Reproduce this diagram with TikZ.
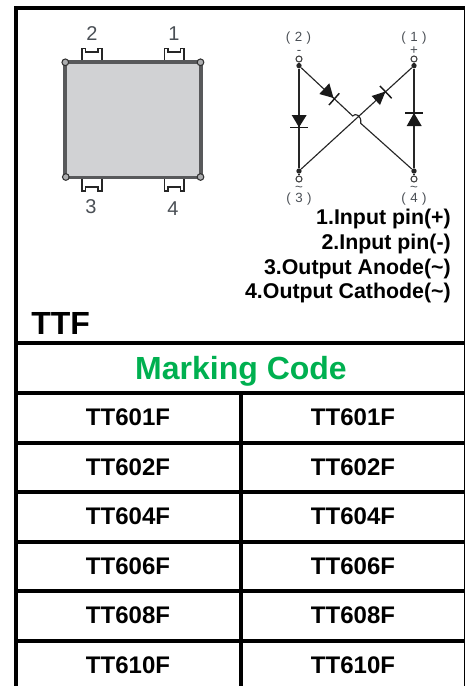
\documentclass[tikz,border=0pt]{standalone}
\usepackage{fontspec}
\setmainfont{Liberation Sans}
\definecolor{markgreen}{HTML}{00B050}
\definecolor{pkgfill}{HTML}{D1D2D4}
\definecolor{pkgedge}{HTML}{58595B}
\definecolor{lab}{HTML}{4A4F55}
\newcommand{\fs}[1]{\fontsize{#1}{#1}\selectfont}
\tikzset{
  rule/.style={line width=3pt,black},
  cell/.style={anchor=base,font=\fs{18}\bfseries,inner sep=0pt},
  pinlist/.style={anchor=base east,font=\fs{16}\bfseries,inner sep=0pt},
  pinnum/.style={font=\fs{15},text=lab,inner sep=0pt},
  cirlab/.style={font=\fs{10},text=lab,inner sep=0pt},
  pinshape/.style={draw=black!85,line width=1.2pt,fill=white},
  wire/.style={line width=1.1pt,black!85},
  thin wire/.style={line width=.85pt,black!85},
  dtri/.style={fill=black!90,draw=none},
  dbar/.style={line width=1.1pt,black!90},
  junction/.style={circle,fill=black!85,inner sep=0pt,minimum size=4pt},
  term/.style={circle,draw=black!75,fill=white,line width=.8pt,inner sep=0pt,minimum size=4.5pt},
  corner/.style={circle,draw=black!80,fill=pkgfill!70!pkgedge,line width=.8pt,inner sep=0pt,minimum size=5pt}
}
\begin{document}
\begin{tikzpicture}[x=0.75pt,y=-0.75pt]
\useasboundingbox (0,0) rectangle (465,686);
% frame and table
\coordinate (tl) at (16,8);
\coordinate (tr) at (465,8);
\coordinate (bl) at (16,686);
\coordinate (rt) at (464,8);
\coordinate (rb) at (464,686);
\draw[rule] (bl) -- (tl) -- (tr);
\draw[line width=.75pt,black] (rt) -- (rb);
\foreach \yy in {343,393,443,492,542,591,641}
  \draw[rule] (16,\yy) -- (465,\yy);
\draw[rule] (241,393) -- (241,686);
% package
\foreach \xa/\xb in {81.7/101.7,164.3/184}{
  \draw[pinshape] (\xa,61) -- (\xa,48.5) -- ({\xa+3.6},48.5) -- ({\xa+3.6},52) -- ({\xb-3.6},52) -- ({\xb-3.6},48.5) -- (\xb,48.5) -- (\xb,61);
  \draw[pinshape] (\xa,178) -- (\xa,190.7) -- ({\xa+3.6},190.7) -- ({\xa+3.6},187) -- ({\xb-3.6},187) -- ({\xb-3.6},190.7) -- (\xb,190.7) -- (\xb,178);
}
\draw[draw=pkgedge,fill=pkgfill,line width=2.8pt] (65.2,61.8) rectangle (200.8,177.4);
\node[corner] (c1) at (65.3,62.3) {};
\node[corner] (c2) at (200.5,62.3) {};
\node[corner] (c3) at (65.8,177) {};
\node[corner] (c4) at (200.5,177) {};
\node[pinnum] (n2) at (92,34) {2};
\node[pinnum] (n1) at (174,34) {1};
\node[pinnum] (n3) at (91,207) {3};
\node[pinnum] (n4) at (173,209) {4};
% circuit
\node[junction] (j2) at (299,65.7) {};
\node[junction] (j1) at (414,65.7) {};
\node[junction] (j3) at (299,171) {};
\node[junction] (j4) at (414,171) {};
\node[term] (t2) at (299,59) {};
\node[term] (t1) at (414,59) {};
\node[term] (t3) at (299,179) {};
\node[term] (t4) at (414,179) {};
\draw[thin wire] (t2) -- (j2);
\draw[thin wire] (t1) -- (j1);
\draw[thin wire] (t3) -- (j3);
\draw[thin wire] (t4) -- (j4);
\draw[wire] (j2) -- (j3);
\draw[wire] (j1) -- (j4);
\coordinate (ha) at (352.7,116);
\coordinate (hb) at (360.7,123.3);
\draw[thin wire] (j2) -- (ha) .. controls (355,112.5) and (362,115.5) .. (hb) -- (j4);
\draw[thin wire] (j3) -- (j1);
% diodes
\fill[dtri] (291.7,115) -- (306.7,115) -- (299,127.3) -- cycle;
\draw[dbar] (290,127.3) -- (308.3,127.3);
\fill[dtri] (406.7,126) -- (421.7,126) -- (414,113) -- cycle;
\draw[dbar] (405,113) -- (423,113);
\fill[dtri] (319.3,94) -- (329.3,83.3) -- (333.5,98) -- cycle;
\draw[dbar] (329,105) -- (339.3,93.3);
\fill[dtri] (371.7,96) -- (380,105) -- (385.5,91.5) -- cycle;
\draw[dbar] (380,86) -- (391.7,98.3);
% circuit labels
\node[cirlab] (l2) at (298.5,38.5) {(\,\,2\,\,)};
\node[cirlab] (l1) at (414,38.5) {(\,\,1\,\,)};
\node[cirlab] (l3) at (299,199.5) {(\,\,3\,\,)};
\node[cirlab] (l4) at (414,199.5) {(\,\,4\,\,)};
\node[cirlab] (mn) at (299,52) {-};
\node[cirlab] (pl) at (414,50.5) {+};
\node[cirlab] (t3l) at (299,189) {\textasciitilde};
\node[cirlab] (t4l) at (414,189) {\textasciitilde};
% pin list
\node[pinlist] (p1) at (451,224.5) {1.Input pin(+)};
\node[pinlist] (p2) at (451,249.5) {2.Input pin(-)};
\node[pinlist] (p3) at (451,274.5) {3.Output Anode(\textasciitilde)};
\node[pinlist] (p4) at (451,298.5) {4.Output Cathode(\textasciitilde)};
% titles
\node[anchor=base west,inner sep=0pt,font=\fs{24}\bfseries] (ttf) at (31,334) {TTF};
\node[anchor=base,inner sep=0pt,font=\fs{24}\bfseries,text=markgreen] (mc) at (241,379) {Marking Code};
% table cells
\foreach \bb/\tx in {425.5/TT601F,475/TT602F,524.5/TT604F,574/TT606F,623.5/TT608F,673/TT610F}{
  \node[cell] at (128,\bb) {\tx};
  \node[cell] at (353,\bb) {\tx};
}
\end{tikzpicture}
\end{document}
